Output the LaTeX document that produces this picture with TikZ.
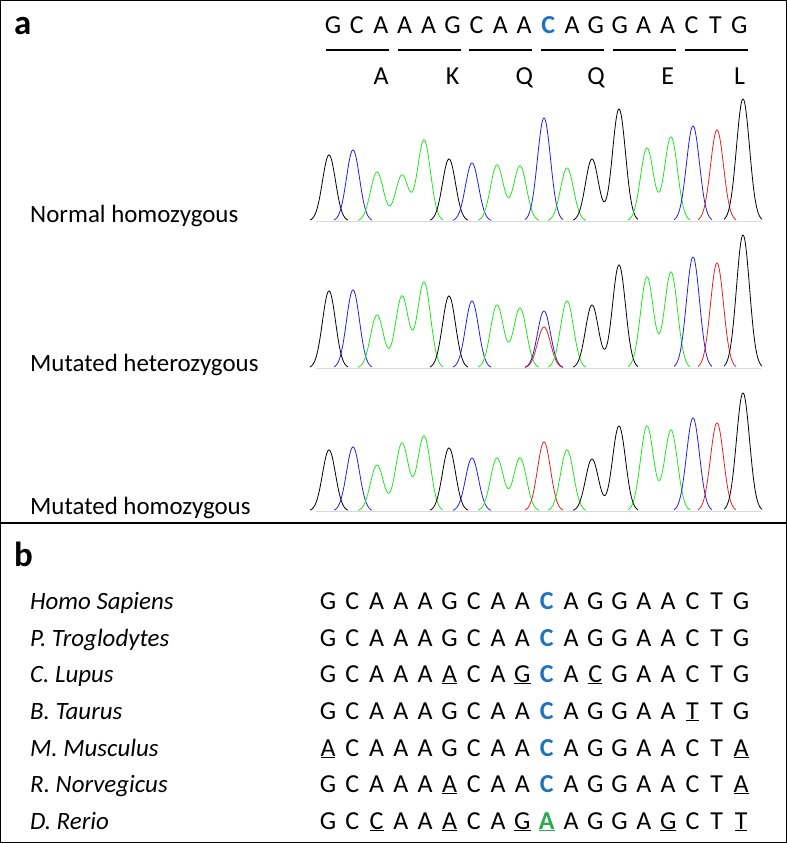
\documentclass[tikz,border=0pt]{standalone}
\usepackage{fontspec}
\setmainfont{Carlito}
\definecolor{cblue}{RGB}{30,115,190}
\definecolor{cgreen}{RGB}{40,170,80}
\definecolor{tg}{RGB}{30,230,30}
\definecolor{tb}{RGB}{30,30,230}
\definecolor{tr}{RGB}{230,30,30}
\newcommand\gx[2]{#2*exp(-((\x-#1)*(\x-#1))/85)}
\newcommand\grp[5]{\draw[#2,line width=0.8pt,smooth] plot[domain=#3:#4,samples=90] (\x,{#1-(#5)});}
\tikzset{seq/.style={font=\fontsize{26}{26}\selectfont,inner sep=0pt,anchor=base},
 lab/.style={font=\fontsize{25}{25}\selectfont,anchor=base west,inner sep=0pt},
 sp/.style={font=\fontsize{25}{25}\selectfont\itshape,anchor=base west,inner sep=0pt}}
\begin{document}
\begin{tikzpicture}[x=1bp,y=-1bp]
\useasboundingbox (0,0) rectangle (787,843);
\draw[line width=1.5pt] (0.75,0.75) rectangle (786.25,842.25);
\draw[line width=1.2pt] (0,523) -- (787,523);
\node[font=\fontsize{35}{35}\selectfont\bfseries,anchor=base west,inner sep=0pt] (pa) at (14,34) {a};
\node[font=\fontsize{35}{35}\selectfont\bfseries,anchor=base west,inner sep=0pt] (pb) at (14,566) {b};
% top sequence
\foreach \b [count=\i from 0] in {G,C,A,A,A,G,C,A,A,{\textcolor{cblue}{\textbf{C}}},A,G,G,A,A,C,T,G}
  \node[seq] (t\i) at ({333+23.9*\i},33) {\b};
\foreach \k in {0,...,5}
  \draw[line width=2.8pt] ({326+71.7*\k},50) -- ({389+71.7*\k},50);
\foreach \a [count=\k from 0] in {A,K,Q,Q,E,L}
  \node[seq] (aa\k) at ({381+71.7*\k},84) {\a};
% labels
\node[lab] (l1) at (30,222) {Normal homozygous};
\node[lab] (l2) at (30,371) {Mutated heterozygous};
\node[lab] (l3) at (30,514) {Mutated homozygous};
% baselines
\foreach \B in {221,368,511} \draw[gray!30,line width=0.6pt] (316,\B) -- (761,\B);
% trace 1
\grp{221}{black}{310}{348}{\gx{329}{66}}
\grp{221}{tb}{334}{372}{\gx{353}{71}}
\grp{221}{tg}{358}{443}{\gx{377}{49}+\gx{402}{46}+\gx{424}{81}}
\grp{221}{black}{430}{468}{\gx{449}{62}}
\grp{221}{tb}{453}{491}{\gx{472}{58}}
\grp{221}{tg}{478}{539}{\gx{497}{56}+\gx{520}{55}}
\grp{221}{tb}{525}{563}{\gx{544}{103}}
\grp{221}{tg}{548}{586}{\gx{567}{53}}
\grp{221}{black}{573}{638}{\gx{592}{62}+\gx{619}{112}}
\grp{221}{tg}{628}{690}{\gx{647}{73}+\gx{671}{84}}
\grp{221}{tb}{674}{712}{\gx{693}{95}}
\grp{221}{tr}{698}{736}{\gx{717}{91}}
\grp{221}{black}{724}{762}{\gx{743}{122}}
% trace 2
\grp{368}{black}{310}{348}{\gx{329}{77}}
\grp{368}{tb}{334}{372}{\gx{353}{78}}
\grp{368}{tg}{358}{443}{\gx{377}{53}+\gx{402}{72}+\gx{424}{86}}
\grp{368}{black}{430}{468}{\gx{449}{72}}
\grp{368}{tb}{453}{491}{\gx{472}{67}}
\grp{368}{tg}{478}{539}{\gx{497}{63}+\gx{520}{60}}
\grp{368}{tb}{525}{563}{\gx{544}{57}}
\grp{368}{tr}{525}{563}{\gx{544}{41}}
\grp{368}{tg}{548}{586}{\gx{567}{67}}
\grp{368}{black}{573}{638}{\gx{592}{63}+\gx{619}{103}}
\grp{368}{tg}{628}{690}{\gx{647}{91}+\gx{671}{96}}
\grp{368}{tb}{674}{712}{\gx{693}{111}}
\grp{368}{tr}{698}{736}{\gx{717}{105}}
\grp{368}{black}{724}{762}{\gx{743}{133}}
% trace 3
\grp{511}{black}{310}{348}{\gx{329}{61}}
\grp{511}{tb}{334}{372}{\gx{353}{64}}
\grp{511}{tg}{358}{443}{\gx{377}{46}+\gx{402}{68}+\gx{424}{75}}
\grp{511}{black}{430}{468}{\gx{449}{63}}
\grp{511}{tb}{453}{491}{\gx{472}{53}}
\grp{511}{tg}{478}{539}{\gx{497}{53}+\gx{520}{53}}
\grp{511}{tr}{525}{563}{\gx{544}{69}}
\grp{511}{tg}{548}{586}{\gx{567}{61}}
\grp{511}{black}{573}{638}{\gx{592}{52}+\gx{619}{85}}
\grp{511}{tg}{628}{690}{\gx{647}{85}+\gx{671}{81}}
\grp{511}{tb}{674}{712}{\gx{693}{93}}
\grp{511}{tr}{698}{736}{\gx{717}{88}}
\grp{511}{black}{724}{762}{\gx{743}{118}}
% panel b
\foreach \n/\y [count=\r] in {Homo Sapiens/609,P. Troglodytes/646,C. Lupus/682,B. Taurus/719,M. Musculus/756,R. Norvegicus/792,D. Rerio/829}
  \node[sp] (s\r) at (30,\y) {\n};
\newcommand\C{\textcolor{cblue}{\textbf{C}}}
\newcommand\U[1]{\underline{#1}}
\foreach \seq/\y [count=\r] in {
 {G,C,A,A,A,G,C,A,A,\C,A,G,G,A,A,C,T,G}/609,
 {G,C,A,A,A,G,C,A,A,\C,A,G,G,A,A,C,T,G}/646,
 {G,C,A,A,A,\U{A},C,A,\U{G},\C,A,\U{C},G,A,A,C,T,G}/682,
 {G,C,A,A,A,G,C,A,A,\C,A,G,G,A,A,\U{T},T,G}/719,
 {\U{A},C,A,A,A,G,C,A,A,\C,A,G,G,A,A,C,T,\U{A}}/756,
 {G,C,A,A,A,\U{A},C,A,A,\C,A,G,G,A,A,C,T,\U{A}}/792,
 {G,C,\U{C},A,A,\U{A},C,A,\U{G},\textcolor{cgreen}{\textbf{\underline{A}}},A,G,G,A,\U{G},C,T,\U{T}}/829}
  \foreach \b [count=\i from 0] in \seq
    \node[seq] (q\r-\i) at ({328+24.3*\i},\y) {\b};
\end{tikzpicture}
\end{document}
